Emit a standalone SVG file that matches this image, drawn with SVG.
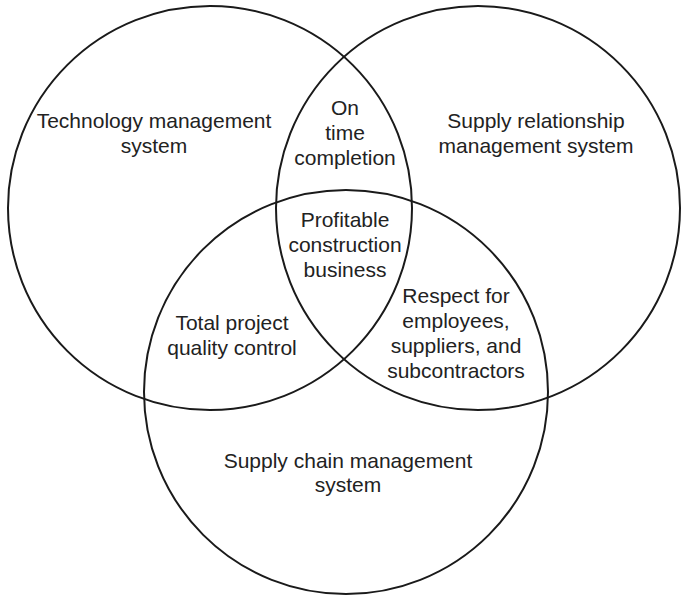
<svg xmlns="http://www.w3.org/2000/svg" width="681" height="596" viewBox="0 0 681 596">
<style>
.c{fill:none;stroke:#1a1a1a;stroke-width:2}
.t{font-family:"Liberation Sans",Arial,sans-serif;font-size:21px;fill:#222;text-anchor:middle}
</style>
<rect width="681" height="596" fill="#fff"/>
<g id="connectors"></g>
<g id="tech">
<circle class="c" cx="210" cy="208" r="202"/>
<text class="t" x="154" y="128">Technology management</text>
<text class="t" x="154" y="153">system</text>
</g>
<g id="srm">
<circle class="c" cx="478" cy="208" r="202"/>
<text class="t" x="536" y="128">Supply relationship</text>
<text class="t" x="536" y="153">management system</text>
</g>
<g id="scm">
<circle class="c" cx="346" cy="392" r="202"/>
<text class="t" x="348" y="468">Supply chain management</text>
<text class="t" x="348" y="492">system</text>
</g>
<g id="ontime">
<text class="t" x="345" y="115">On</text>
<text class="t" x="345" y="140">time</text>
<text class="t" x="345" y="165">completion</text>
</g>
<g id="profitable">
<text class="t" x="345" y="227">Profitable</text>
<text class="t" x="345" y="252">construction</text>
<text class="t" x="345" y="277">business</text>
</g>
<g id="respect">
<text class="t" x="456" y="303">Respect for</text>
<text class="t" x="456" y="328">employees,</text>
<text class="t" x="456" y="353">suppliers, and</text>
<text class="t" x="456" y="378">subcontractors</text>
</g>
<g id="quality">
<text class="t" x="232" y="330">Total project</text>
<text class="t" x="232" y="355">quality control</text>
</g>
</svg>
